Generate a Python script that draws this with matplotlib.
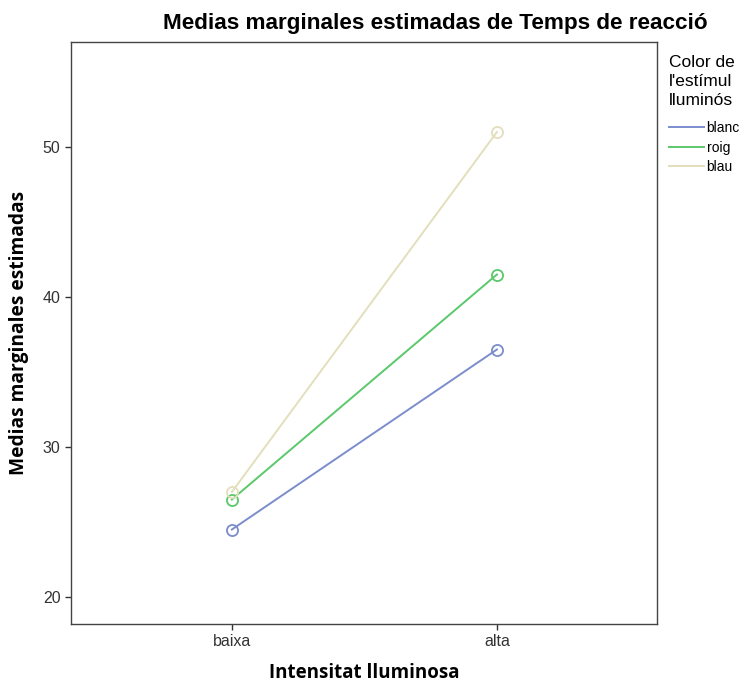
import matplotlib
matplotlib.use('Agg')
import matplotlib.pyplot as plt
from matplotlib.lines import Line2D

plt.rcParams['font.family'] = ['Liberation Sans', 'DejaVu Sans']

# data
intensitat = ['baixa', 'alta']
colors_estimul = ['blanc', 'roig', 'blau']
blanc = [24.5, 36.5]
roig = [26.5, 41.5]
blau = [27.0, 51.0]
series = [blanc, roig, blau]
line_colors = ['#7b8dcc', '#5ac86b', '#e3dfbc']

fig = plt.figure(figsize=(7.4, 6.88), dpi=100)
ax = fig.add_axes([71/740, 64/688, 586/740, 582/688])

x = list(range(len(intensitat)))
handles = []
for name, vals, c in zip(colors_estimul, series, line_colors):
    ax.plot(x, vals, color=c, lw=1.4, marker='o', ms=8, mfc='none', mec=c, mew=1.3)
    handles.append(Line2D([0], [0], color=c, lw=1.4, label=name))

ax.set_xlim(-0.607, 1.604)
ax.set_ylim(18.2, 57.0)
ax.set_xticks(x)
ax.set_xticklabels(intensitat)
ax.set_yticks([20, 30, 40, 50])
ax.tick_params(axis='both', labelsize=11.5, colors='#333333', length=4, width=1)
for s in ax.spines.values():
    s.set_color('#444444')
    s.set_linewidth(1)

lab_font = ['Open Sans', 'DejaVu Sans']
ax.set_xlabel('Intensitat lluminosa', fontsize=13.5, fontweight='bold',
              family=lab_font, labelpad=10)
ax.set_ylabel('Medias marginales estimadas', fontsize=13.8, fontweight='bold',
              family=lab_font, labelpad=10)
fig.text(435/740, 1 - 23/688, 'Medias marginales estimadas de Temps de reacció',
         ha='center', va='center', fontsize=16.2, fontweight='bold')

leg = fig.legend(handles=handles, title="Color de\nl'estímul\nlluminós",
                 loc='upper left', bbox_to_anchor=(669/740, 1 - 55/688),
                 frameon=False, fontsize=10, title_fontsize=12.5,
                 handlelength=2.5, handletextpad=0.2, labelspacing=0.4,
                 borderaxespad=0, borderpad=0)
leg._legend_box.align = 'left'
leg._legend_box.sep = 9.6
leg.get_title().set_linespacing(1.32)

fig.savefig('out.png', dpi=100)
